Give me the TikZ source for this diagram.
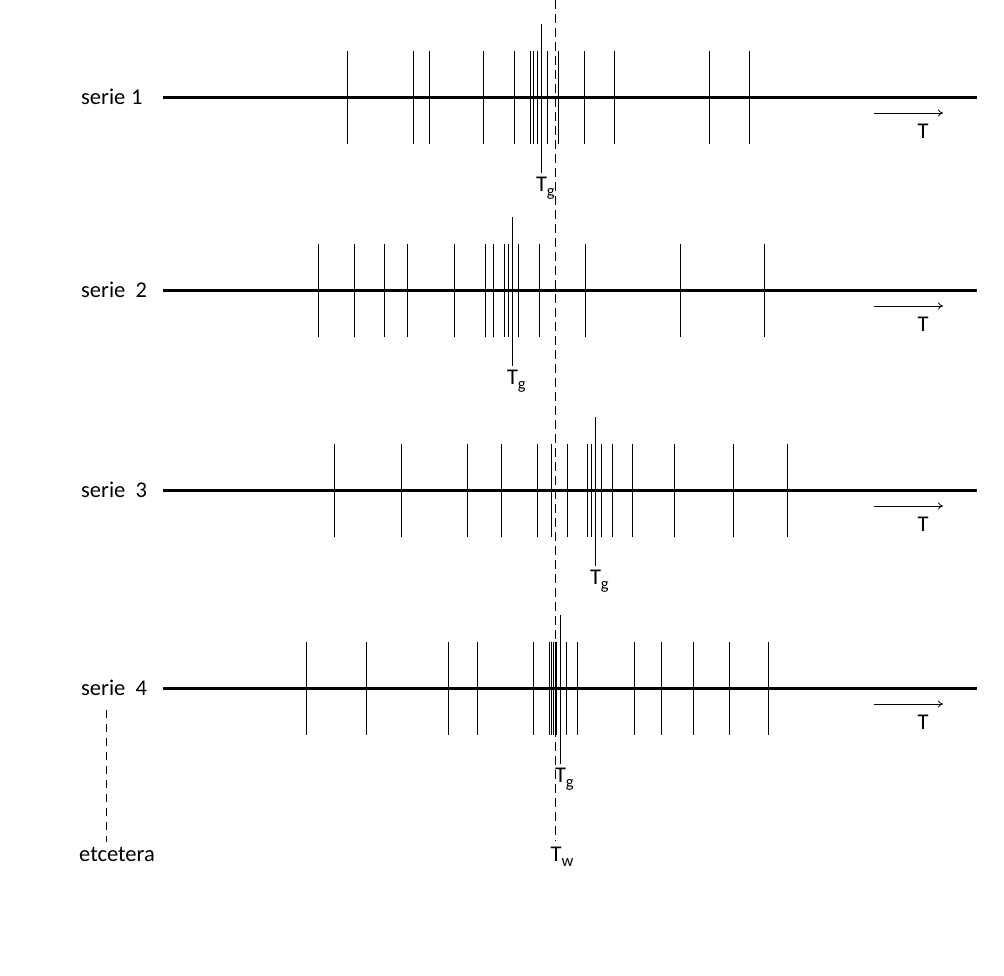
\documentclass[tikz,border=0pt]{standalone}
\usepackage{fontspec}
\setmainfont{Carlito}
\usetikzlibrary{arrows.meta}
\begin{document}
\begin{tikzpicture}[x=1pt,y=-1pt,
  tickline/.style={line width=1pt},
  axisline/.style={line width=3pt},
  lbl/.style={font=\fontsize{22.5}{26}\selectfont, inner sep=0pt},
  dirarrow/.style={line width=0.8pt, -{To[length=5pt,width=7pt]}},
  wdash/.style={line width=1pt, dash pattern=on 9pt off 5pt},
  edash/.style={line width=1pt, dash pattern=on 8pt off 6pt}]
\useasboundingbox (0,0) rectangle (1004,975);
\fill[white] (0,0) rectangle (1004,975);
% Tw dashed line
\coordinate (twtop) at (555.5,0);
\node[lbl, anchor=north] (tw) at (562,847) {T\raisebox{-4.5pt}{\fontsize{16.5}{16.5}\selectfont w}};
\draw[wdash] (twtop) -- (555.5,841);
% series
\foreach \n/\y/\sp/\ticks/\tg in {
  1/97/0.25em/{347.7,413.7,429.3,483.7,514.3,530.3,533.3,537,547.3,558.7,584.3,614.3,709.7,749.3}/541.3,
  2/290/0.45em/{318.3,354.3,384.7,407,454.3,485.3,493.3,504.3,508.3,518.3,539.3,585.3,680,764}/512.3,
  3/490/0.45em/{334.3,401.3,467,501.3,537,551,567.3,587.3,591.3,601.7,612.3,632.3,674,733,787}/595.3,
  4/688/0.45em/{306.3,366.3,448.7,477.7,533.7,549.3,551.2,553.4,555,556.4,566.5,577.5,634,661,693,729,768}/560.3}{
  \node[lbl, anchor=west] (s\n) at (81,\y) {serie\hspace{\sp}\n};
  \coordinate (a\n) at (977,\y);
  \draw[axisline] (163,\y) -- (a\n);
  \foreach \t in \ticks {\draw[tickline] (\t,\y-46.5) -- (\t,\y+46.5);}
  \draw[tickline] (\tg,\y-73) -- (\tg,\y+76);
  \node[lbl, anchor=north west] (g\n) at (\tg-5.5,\y+80) {T\raisebox{-4.5pt}{\fontsize{16.5}{16.5}\selectfont g}};
  \coordinate (ar\n) at (874,\y+16);
  \coordinate (ae\n) at (943,\y+16);
  \draw[dirarrow] (ar\n) -- (ae\n);
  \node[lbl] (t\n) at (923,\y+34) {T};
}
% etcetera
\node[lbl, anchor=north] (etc) at (117,847) {etcetera};
\draw[edash] (106.7,710) -- (106.7,842);
\end{tikzpicture}
\end{document}
